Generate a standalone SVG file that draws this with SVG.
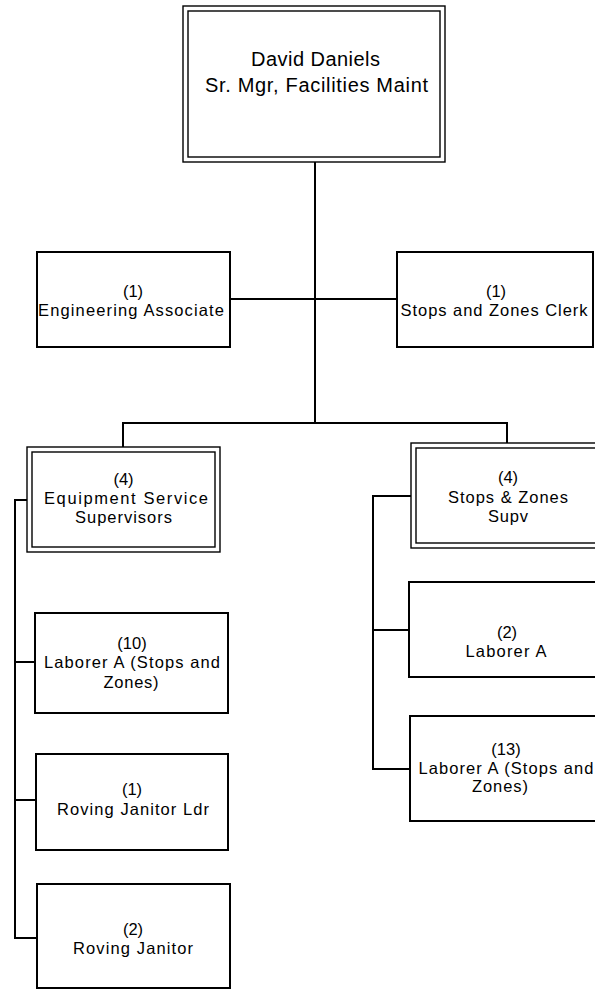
<svg xmlns="http://www.w3.org/2000/svg" width="595" height="992" viewBox="0 0 595 992">
<style>
.bg{fill:#ffffff}
.box{fill:#ffffff;stroke:#000;stroke-width:2}
.dbl{fill:none;stroke:#000;stroke-width:1.4}
.wire{fill:none;stroke:#000;stroke-width:2}
text{font-family:"Liberation Sans",Arial,sans-serif;fill:#000;text-anchor:middle}
.t{font-size:16.5px}
.big{font-size:20px}
</style>
<rect class="bg" x="0" y="0" width="595" height="992"/>
<g id="connectors">
<path class="wire" d="M315,162V423M230,299H397M123,447V423H507V443"/>
<path class="wire" d="M27,500H15V938H37M15,662H35M15,800H36"/>
<path class="wire" d="M411,496H373V769H410M373,630H409"/>
</g>
<g id="n-david">
<rect class="box" x="183" y="6" width="262" height="156" style="stroke-width:1.4"/>
<rect class="dbl" x="188" y="11" width="252" height="146"/>
<text class="big" x="315.5" y="66" textLength="129" lengthAdjust="spacing">David Daniels</text>
<text class="big" x="316.5" y="92" textLength="223" lengthAdjust="spacing">Sr. Mgr, Facilities Maint</text>
</g>
<g id="n-eng">
<rect class="box" x="37" y="252" width="193" height="95"/>
<text class="t" x="133" y="297">(1)</text>
<text class="t" x="131" y="316" textLength="186" lengthAdjust="spacing">Engineering Associate</text>
</g>
<g id="n-clerk">
<rect class="box" x="397" y="252" width="196" height="95"/>
<text class="t" x="496" y="297">(1)</text>
<text class="t" x="494" y="316" textLength="187" lengthAdjust="spacing">Stops and Zones Clerk</text>
</g>
<g id="n-equip">
<rect class="box" x="27" y="447" width="193" height="105" style="stroke-width:1.4"/>
<rect class="dbl" x="32" y="452" width="183" height="95"/>
<text class="t" x="123.5" y="485">(4)</text>
<text class="t" x="126" y="504" textLength="164" lengthAdjust="spacing">Equipment Service</text>
<text class="t" x="123.5" y="523" textLength="97" lengthAdjust="spacing">Supervisors</text>
</g>
<g id="n-szsupv">
<rect class="box" x="411" y="443" width="194" height="105" style="stroke-width:1.4"/>
<rect class="dbl" x="416" y="448" width="184" height="95"/>
<text class="t" x="508" y="483">(4)</text>
<text class="t" x="508" y="503" textLength="120" lengthAdjust="spacing">Stops &amp; Zones</text>
<text class="t" x="508" y="522" textLength="40" lengthAdjust="spacing">Supv</text>
</g>
<g id="n-lab10">
<rect class="box" x="35" y="613" width="193" height="100"/>
<text class="t" x="132" y="649">(10)</text>
<text class="t" x="132" y="668" textLength="176" lengthAdjust="spacing">Laborer A (Stops and</text>
<text class="t" x="131" y="688" textLength="55" lengthAdjust="spacing">Zones)</text>
</g>
<g id="n-rjl">
<rect class="box" x="36" y="754" width="192" height="96"/>
<text class="t" x="132" y="795">(1)</text>
<text class="t" x="133" y="815" textLength="152" lengthAdjust="spacing">Roving Janitor Ldr</text>
</g>
<g id="n-rj">
<rect class="box" x="37" y="884" width="193" height="104"/>
<text class="t" x="133" y="935">(2)</text>
<text class="t" x="133" y="954" textLength="120" lengthAdjust="spacing">Roving Janitor</text>
</g>
<g id="n-lab2">
<rect class="box" x="409" y="582" width="196" height="95"/>
<text class="t" x="507" y="638">(2)</text>
<text class="t" x="506" y="657" textLength="81" lengthAdjust="spacing">Laborer A</text>
</g>
<g id="n-lab13">
<rect class="box" x="410" y="716" width="196" height="105"/>
<text class="t" x="506" y="755">(13)</text>
<text class="t" x="506" y="774" textLength="175" lengthAdjust="spacing">Laborer A (Stops and</text>
<text class="t" x="500" y="792" textLength="56" lengthAdjust="spacing">Zones)</text>
</g>
</svg>
